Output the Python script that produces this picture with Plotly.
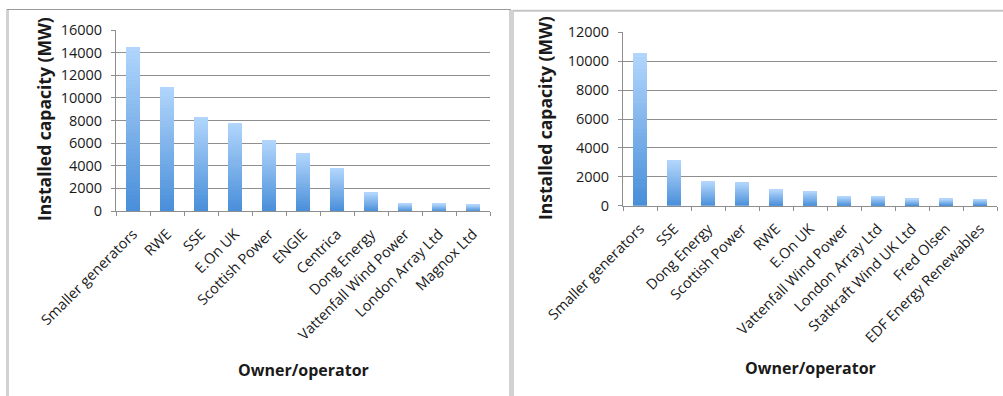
import plotly.graph_objects as go

# Canvas size in pixels
W, H = 1003, 396

# Largest electricity generators by installed capacity
owners_all = ["Smaller generators", "RWE", "SSE", "E.On UK", "Scottish Power",
              "ENGIE", "Centrica", "Dong Energy", "Vattenfall Wind Power",
              "London Array Ltd", "Magnox Ltd"]
capacity_all = [14500, 11000, 8300, 7800, 6250, 5100, 3750, 1620, 680, 650, 560]

# Largest renewable generators by installed capacity
owners_renew = ["Smaller generators", "SSE", "Dong Energy", "Scottish Power", "RWE",
                "E.On UK", "Vattenfall Wind Power", "London Array Ltd",
                "Statkraft Wind UK Ltd", "Fred Olsen", "EDF Energy Renewables"]
capacity_renew = [10550, 3110, 1620, 1590, 1090, 970, 620, 630, 460, 450, 440]

yticks_all = [0, 2000, 4000, 6000, 8000, 10000, 12000, 14000, 16000]
yticks_renew = [0, 2000, 4000, 6000, 8000, 10000, 12000]

FONT = "Open Sans"
TEXT = "#1a1a1a"
GRID = "#8e8e8e"
TOP_RGB = (178, 214, 252)
BOTTOM_RGB = (72, 142, 217)
STEPS = 40


def px_x(x):
    return x / W


def px_y(y):
    return 1 - y / H


def shade(t):
    r, g, b = (round(BOTTOM_RGB[i] + (TOP_RGB[i] - BOTTOM_RGB[i]) * t) for i in range(3))
    return f"rgb({r},{g},{b})"


fig = go.Figure()


def add_gradient_bars(cats, vals, xa, ya):
    # each bar is stacked from thin slices, dark at the base and light at the top
    for k in range(STEPS):
        fig.add_trace(go.Bar(
            x=cats, y=[v / STEPS for v in vals], xaxis=xa, yaxis=ya,
            marker=dict(color=shade((k + 0.5) / STEPS), line=dict(width=0)),
            showlegend=False, hoverinfo="skip",
        ))


add_gradient_bars(owners_all, capacity_all, "x", "y")
add_gradient_bars(owners_renew, capacity_renew, "x2", "y2")

xcommon = dict(
    type="category", showgrid=False, showline=True, linecolor=GRID, linewidth=1,
    ticks="outside", tickson="boundaries", ticklen=4, tickcolor=GRID,
    tickangle=-45, tickfont=dict(family=FONT, size=14.5, color=TEXT),
    ticklabelstandoff=8, zeroline=False, fixedrange=True, automargin=False,
)
ycommon = dict(
    showgrid=True, gridcolor=GRID, gridwidth=1, showline=True, linecolor=GRID,
    linewidth=1, ticks="outside", ticklen=4, tickcolor=GRID, zeroline=False,
    tickfont=dict(family=FONT, size=14.5, color=TEXT), ticklabelstandoff=6,
    tickformat="d", fixedrange=True, automargin=False,
)

fig.update_layout(
    width=W, height=H, margin=dict(l=0, r=0, t=0, b=0),
    paper_bgcolor="white", plot_bgcolor="white",
    barmode="stack", bargap=0.59,
    xaxis=dict(xcommon, domain=[px_x(116), px_x(490)], anchor="y",
               categoryorder="array", categoryarray=owners_all),
    yaxis=dict(ycommon, domain=[px_y(211), px_y(30)], anchor="x",
               range=[0, 16000], tickvals=yticks_all),
    xaxis2=dict(xcommon, domain=[px_x(623), px_x(997)], anchor="y2",
                categoryorder="array", categoryarray=owners_renew),
    yaxis2=dict(ycommon, domain=[px_y(205.7), px_y(32.3)], anchor="x2",
                range=[0, 12000], tickvals=yticks_renew),
)

xtitle_font = dict(family=FONT, size=16, color=TEXT, weight="bold")
ytitle_font = dict(family=FONT, size=17.5, color=TEXT, weight="bold")
for xc, yc in [(303, 370), (810, 368)]:
    fig.add_annotation(text="Owner/operator", x=px_x(xc), y=px_y(yc), xref="paper",
                       yref="paper", showarrow=False, font=xtitle_font,
                       xanchor="center", yanchor="middle")
for xc, yc in [(44, 119), (545, 118)]:
    fig.add_annotation(text="Installed capacity (MW)", x=px_x(xc), y=px_y(yc),
                       xref="paper", yref="paper", showarrow=False, font=ytitle_font,
                       textangle=-90, xanchor="center", yanchor="middle")

# panel frames
frame_light = "#d2d2d2"
frame_dark = "#9a9a9a"
shapes = [
    dict(type="line", x0=px_x(7.5), x1=px_x(7.5), y0=px_y(9), y1=px_y(H),
         line=dict(color=frame_light, width=3)),
    dict(type="line", x0=px_x(7), x1=px_x(511), y0=px_y(9.5), y1=px_y(9.5),
         line=dict(color=frame_dark, width=1)),
    dict(type="line", x0=px_x(511.5), x1=px_x(511.5), y0=px_y(10), y1=px_y(H),
         line=dict(color=frame_light, width=5)),
    dict(type="line", x0=px_x(513), x1=px_x(W), y0=px_y(10.8), y1=px_y(10.8),
         line=dict(color="#c4c4c4", width=2)),
]
for s in shapes:
    s.update(xref="paper", yref="paper")
fig.update_layout(shapes=shapes)

fig.write_html("out.html")
